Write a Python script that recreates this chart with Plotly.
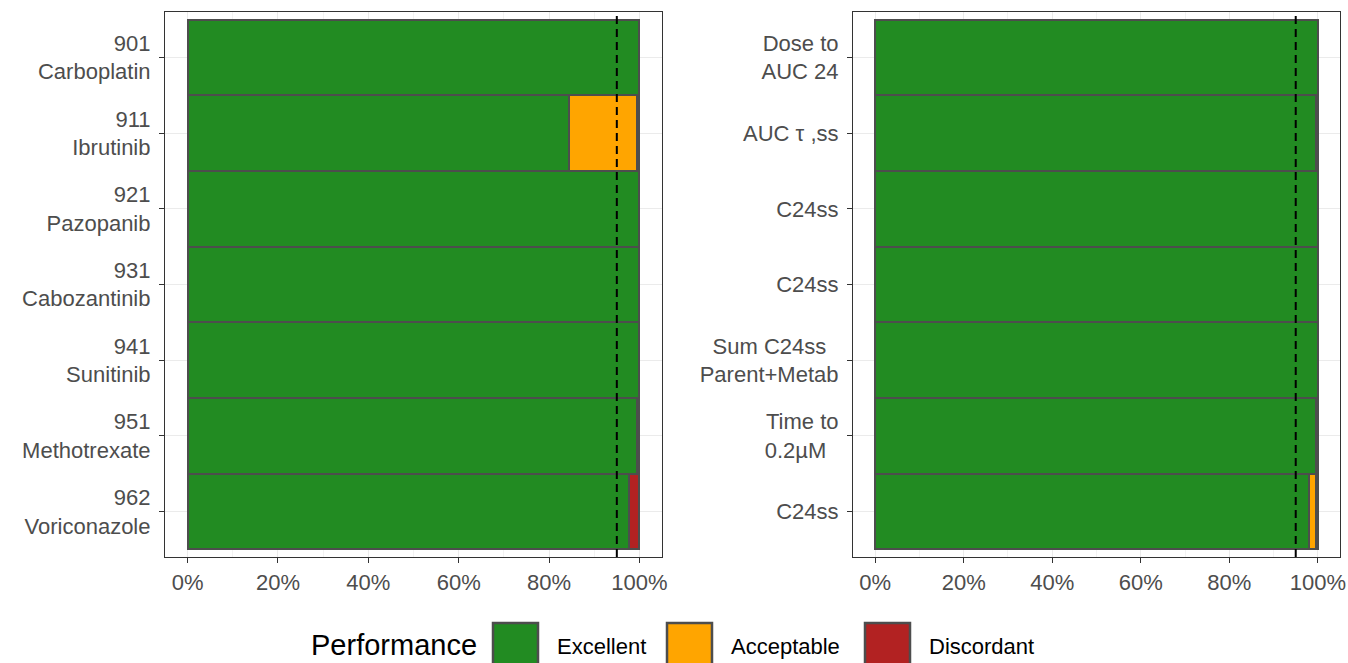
import plotly.graph_objects as go

# ---------------- data ----------------
left_labels = ["901<br>Carboplatin", "911<br>Ibrutinib", "921<br>Pazopanib", "931<br>Cabozantinib",
               "941<br>Sunitinib", "951<br>Methotrexate", "962<br>Voriconazole"]
left_excellent = [100, 84.5, 100, 100, 100, 99.5, 97.7]
left_acceptable = [None, 15.0, None, None, None, None, None]
left_discordant = [None, 0.5, None, None, None, 0.5, 2.3]

right_labels = ["Dose to<br>AUC 24", "AUC \u03c4 ,ss", "C24ss", "C24ss",
                "Sum C24ss\u00a0\u00a0<br>Parent+Metab", "Time to<br>0.2\u00b5M\u00a0\u00a0", "C24ss"]
right_excellent = [100, 99.5, 100, 100, 100, 99.5, 98.1]
right_acceptable = [None, None, None, None, None, None, 1.5]
right_discordant = [None, 0.5, None, None, None, 0.5, 0.4]

categories = ["Excellent", "Acceptable", "Discordant"]
colors = ["#228B22", "#FFA500", "#B22222"]
threshold = 95
x_ticks = [0, 20, 40, 60, 80, 100]

W, H = 1348, 663
FONT = "Liberation Sans, Arial, sans-serif"
TICKCOL = "#4d4d4d"
BORDER = "#4d4d4d"

fig = go.Figure()

panels = [
    ("x", "y", left_labels, [left_excellent, left_acceptable, left_discordant]),
    ("x2", "y2", right_labels, [right_excellent, right_acceptable, right_discordant]),
]
for xa, ya, labels, series in panels:
    ypos = list(range(len(labels)))
    for name, col, vals in zip(categories, colors, series):
        fig.add_trace(go.Bar(
            x=vals, y=ypos, orientation="h", name=name, xaxis=xa, yaxis=ya,
            width=1, marker=dict(color=col, line=dict(color=BORDER, width=2)),
            showlegend=False,
        ))

def px_x(v):
    return v / W

def px_y(v):
    return 1 - v / H

xdoms = [[px_x(165), px_x(662)], [px_x(853), px_x(1340)]]
ydom = [px_y(557), px_y(12)]

axis_common = dict(showline=True, mirror=True, linecolor="#333333", linewidth=1.2,
                   ticks="outside", ticklen=5, tickwidth=1.3, tickcolor="#333333",
                   tickfont=dict(family=FONT, size=22, color=TICKCOL),
                   zeroline=False, automargin=False)

layout = dict(
    width=W, height=H, autosize=False,
    margin=dict(l=0, r=0, t=0, b=0),
    barmode="stack", bargap=0,
    plot_bgcolor="white", paper_bgcolor="white",
    showlegend=False,
    font=dict(family=FONT),
)
for i, (xa, ya, labels, _) in enumerate(panels):
    xk = "xaxis" if i == 0 else "xaxis2"
    yk = "yaxis" if i == 0 else "yaxis2"
    layout[xk] = dict(axis_common, domain=xdoms[i], range=[-5, 105],
                      tickvals=x_ticks, ticktext=[f"{t}%" for t in x_ticks],
                      showgrid=True, gridcolor="#ebebeb", gridwidth=1.2,
                      minor=dict(tickvals=[10, 30, 50, 70, 90], showgrid=True,
                                 gridcolor="#f3f3f3", gridwidth=0.6, ticks=""),
                      anchor=ya)
    layout[yk] = dict(axis_common, domain=ydom, range=[len(labels) - 0.4, -0.6],
                      tickvals=list(range(len(labels))), ticktext=labels,
                      showgrid=True, gridcolor="#ebebeb", gridwidth=1.2,
                      ticklabelstandoff=4, anchor=xa)
fig.update_layout(**layout)

# threshold lines
for xa, ya in [("x", "y"), ("x2", "y2")]:
    fig.add_shape(type="line", xref=xa, yref=f"{ya} domain", x0=threshold, x1=threshold,
                  y0=0, y1=1, line=dict(color="black", width=2, dash="8px,5px"))

# legend (manual, large keys like ggplot)
fig.add_annotation(xref="paper", yref="paper", x=px_x(309), y=px_y(645), text="Performance",
                   showarrow=False, xanchor="left", yanchor="middle",
                   font=dict(family=FONT, size=29, color="black"))
key_x = [493, 667, 865]
for kx, name, col in zip(key_x, categories, colors):
    fig.add_shape(type="rect", xref="paper", yref="paper",
                  x0=px_x(kx), x1=px_x(kx + 45), y0=px_y(672), y1=px_y(623),
                  fillcolor=col, line=dict(color=BORDER, width=2.5))
    fig.add_annotation(xref="paper", yref="paper", x=px_x(kx + 62), y=px_y(646), text=name,
                       showarrow=False, xanchor="left", yanchor="middle",
                       font=dict(family=FONT, size=22, color="black"))

fig.write_html("out.html", config={"displayModeBar": False},
               post_script="document.body.style.margin='0px';")
